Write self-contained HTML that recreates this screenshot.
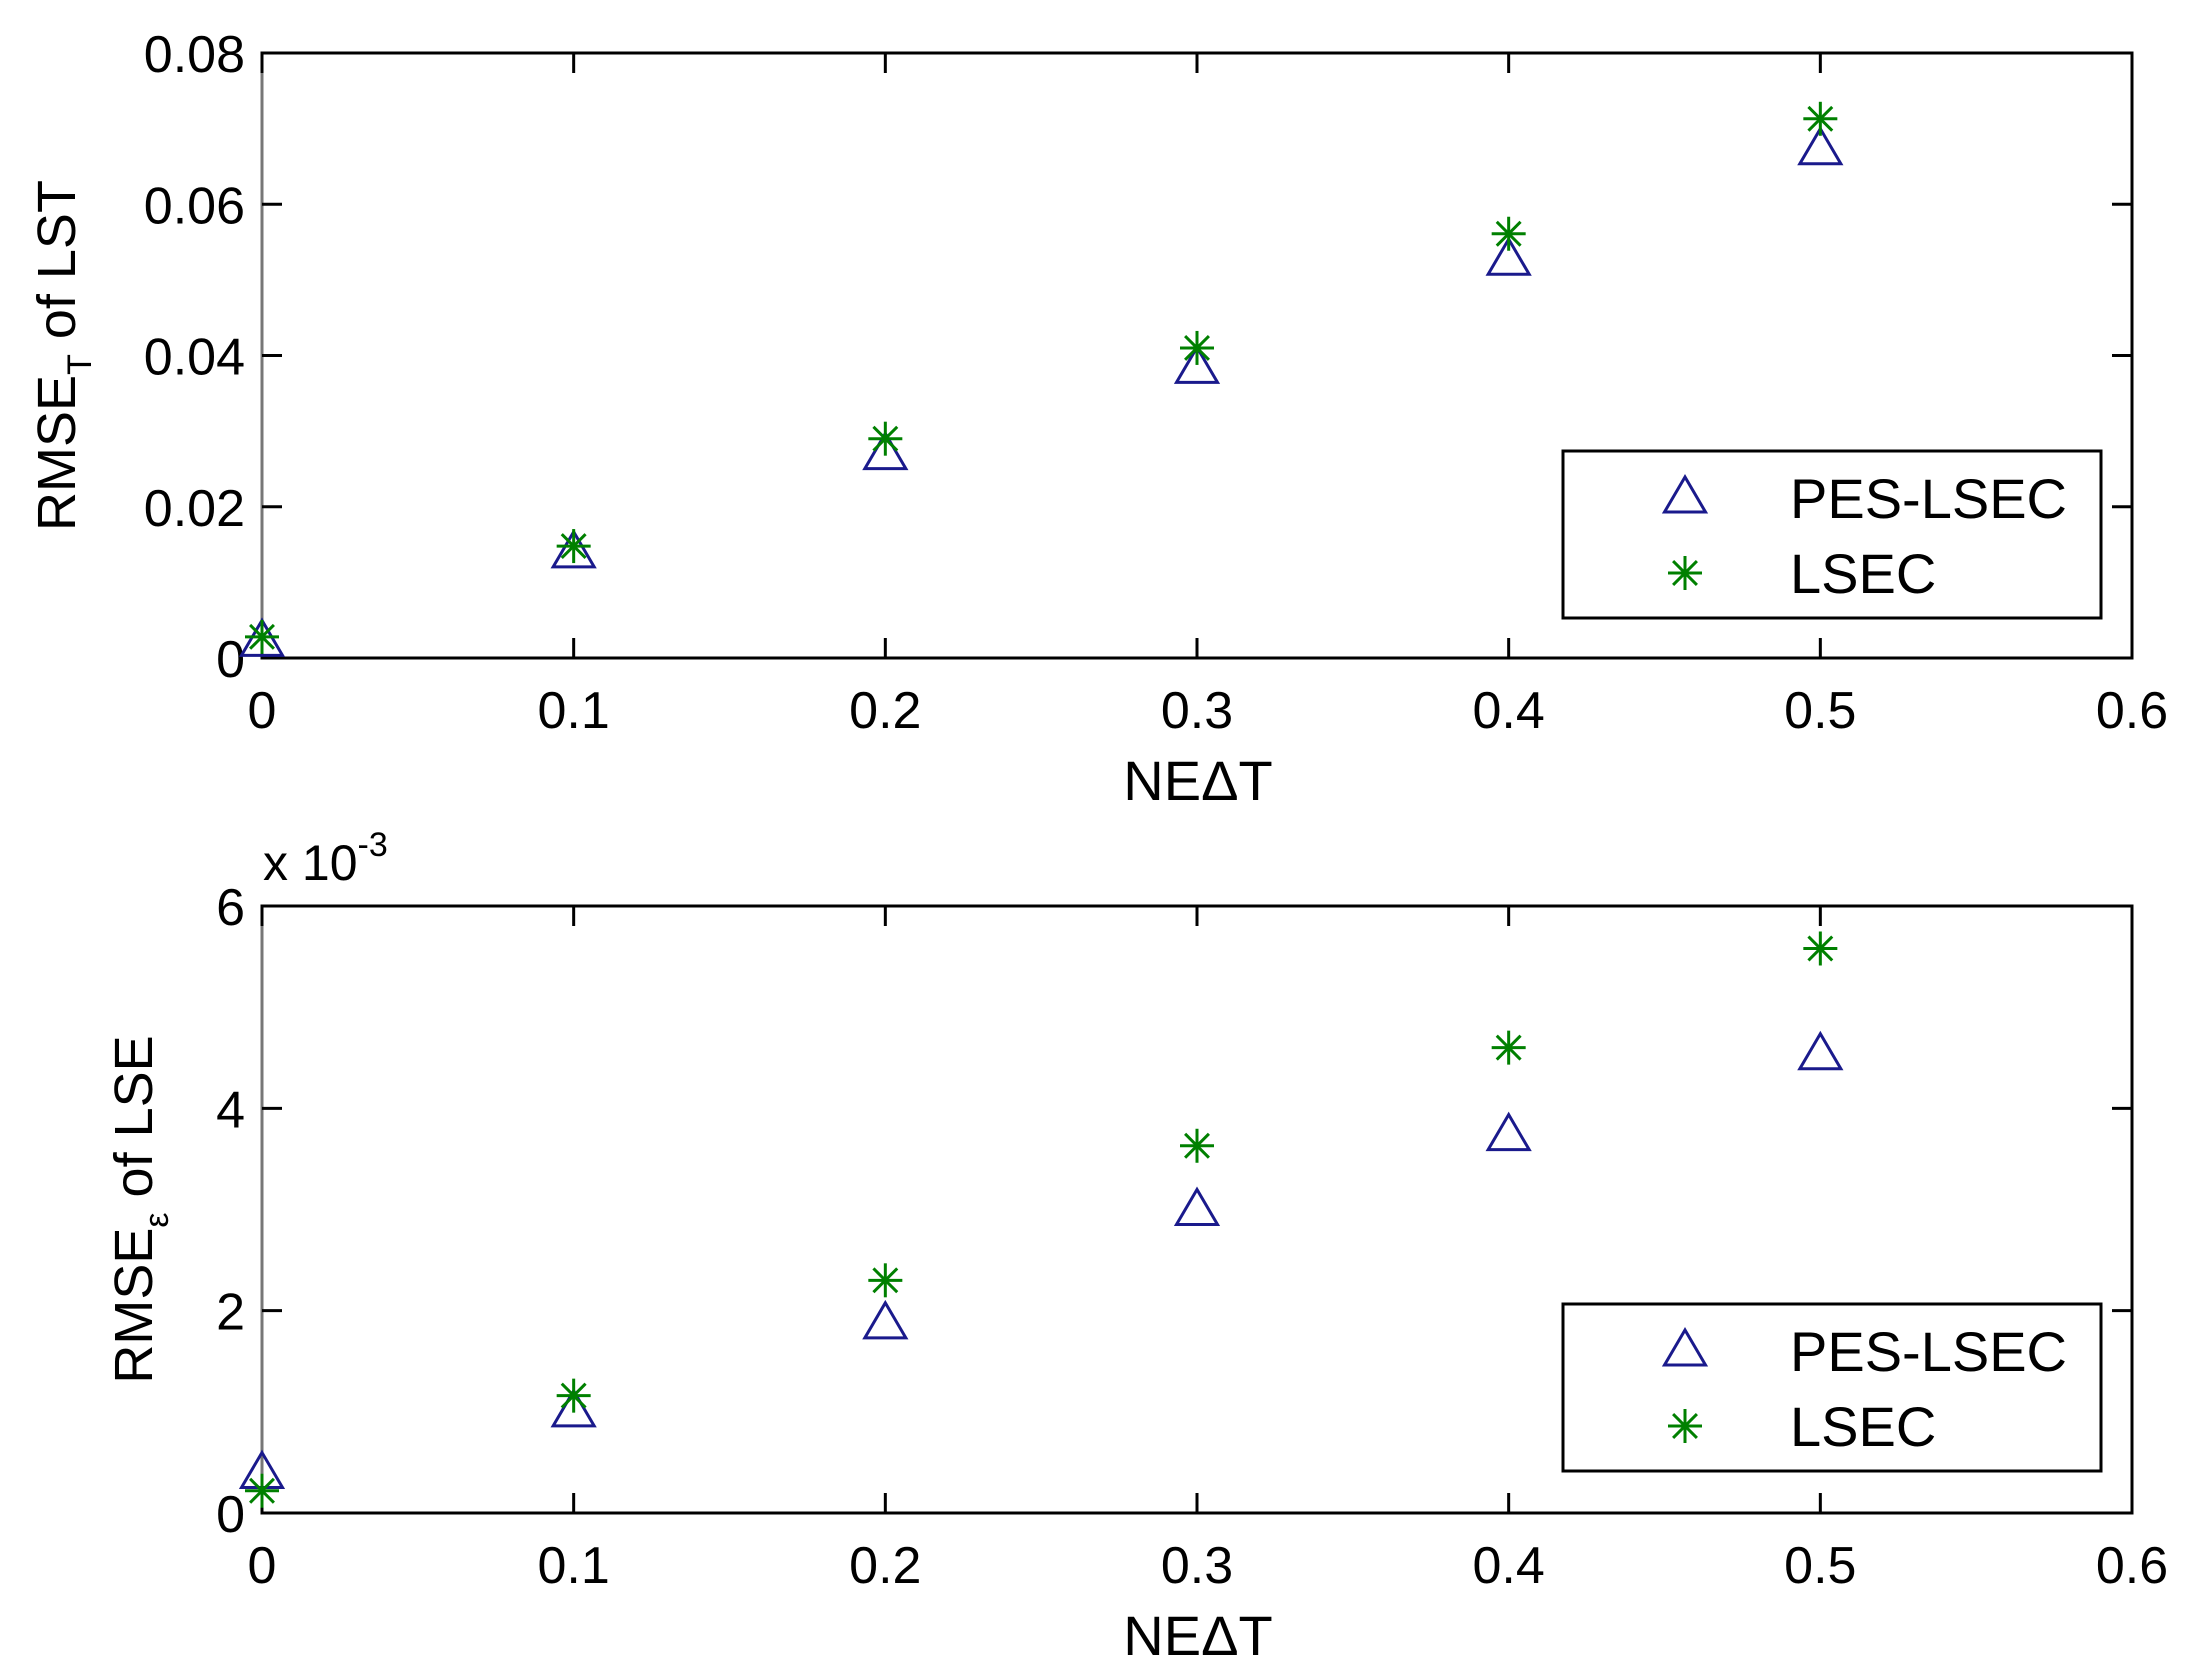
<!DOCTYPE html>
<html><head><meta charset="utf-8"><style>
body{margin:0;background:#fff}
svg{display:block;font-family:"Liberation Sans",Arial,sans-serif}
</style></head><body>
<svg id="chart" width="2197" height="1680" viewBox="0 0 2197 1680"></svg>
<script>
const xTicks=[0,0.1,0.2,0.3,0.4,0.5,0.6];
const xTickLabels=["0","0.1","0.2","0.3","0.4","0.5","0.6"];
const neDT=[0,0.1,0.2,0.3,0.4,0.5];
const topPES=[0.0022,0.0139,0.0269,0.0383,0.0526,0.0672];
const topLSEC=[0.0028,0.0148,0.029,0.041,0.0561,0.0713];
const topYTicks=[0,0.02,0.04,0.06,0.08];
const topYTickLabels=["0","0.02","0.04","0.06","0.08"];
const botPES=[0.39,1.0,1.87,2.99,3.73,4.53];
const botLSEC=[0.22,1.16,2.3,3.63,4.6,5.58];
const botYTicks=[0,2,4,6];
const botYTickLabels=["0","2","4","6"];

const NS="http://www.w3.org/2000/svg";
const svg=document.getElementById('chart');
function mk(tag,attrs,parent){const e=document.createElementNS(NS,tag);for(const k in attrs)e.setAttribute(k,attrs[k]);(parent||svg).appendChild(e);return e;}
const L=262,R=2132;
function xs(v){return L+(v-0)/(0.6)*(R-L);}
function tri(g,cx,cy){const w=41,h=35;const p=mk('polygon',{points:`${cx},${cy-h*0.6} ${cx-w/2},${cy+h*0.4} ${cx+w/2},${cy+h*0.4}`,fill:'none',stroke:'#1a1a8c','stroke-width':3},g);return p;}
function star(g,cx,cy){const s=mk('g',{stroke:'#008000','stroke-width':3},g);const r=17;
 mk('line',{x1:cx-r,y1:cy,x2:cx+r,y2:cy},s);mk('line',{x1:cx,y1:cy-r,x2:cx,y2:cy+r},s);
 mk('line',{x1:cx-r*0.7,y1:cy-r*0.7,x2:cx+r*0.7,y2:cy+r*0.7},s);mk('line',{x1:cx-r*0.7,y1:cy+r*0.7,x2:cx+r*0.7,y2:cy-r*0.7},s);return s;}
function panel(name,T,B,yMax,yT,yTL,pes,lsec,ylabel,sub,ylabX,legTop){
 const g=mk('g',{});
 
 const ys=v=>B-(v/yMax)*(B-T);
 const box=mk('rect',{x:L,y:T,width:R-L,height:B-T,fill:'#fff',stroke:'#000','stroke-width':3},g);
 
 mk('line',{x1:L,y1:T,x2:L,y2:B,stroke:'#777','stroke-width':3},g);
 xTicks.forEach((t,i)=>{const x=xs(t);
  mk('line',{x1:x,y1:B,x2:x,y2:B-20,stroke:'#000','stroke-width':3},g);
  mk('line',{x1:x,y1:T,x2:x,y2:T+20,stroke:'#000','stroke-width':3},g);
  const tx=mk('text',{x:x,y:B+70,'font-size':52,'text-anchor':'middle',fill:'#000'},g);tx.textContent=xTickLabels[i];
  });
 yT.forEach((t,i)=>{const y=ys(t);
  mk('line',{x1:L,y1:y,x2:L+20,y2:y,stroke:'#000','stroke-width':3},g);
  mk('line',{x1:R,y1:y,x2:R-20,y2:y,stroke:'#000','stroke-width':3},g);
  const tx=mk('text',{x:L-17,y:y+19,'font-size':52,'text-anchor':'end',fill:'#000'},g);tx.textContent=yTL[i];
  });
 const xl=mk('text',{x:1198,y:B+142,'font-size':56,'text-anchor':'middle'},g);xl.textContent='NEΔT';
 
 const cy=(T+B)/2;
 const yl=mk('text',{x:0,y:0,'font-size':54,'text-anchor':'middle',transform:`translate(${ylabX},${cy}) rotate(-90)`},g);
 yl.innerHTML=`RMSE<tspan font-size="34" dy="16">${sub}</tspan><tspan dy="-16"> of ${ylabel}</tspan>`;
 
 neDT.forEach((v,i)=>{const t=tri(g,xs(v),ys(pes[i]));
  const s=star(g,xs(v),ys(lsec[i]));});
 const lg=mk('g',{},g);
 mk('rect',{x:1563,y:legTop,width:538,height:167,fill:'#fff',stroke:'#000','stroke-width':3},lg);
 const t1=tri(lg,1685,legTop+47);
 const s1=star(lg,1685,legTop+122);
 const a=mk('text',{x:1790,y:legTop+67,'font-size':56},lg);a.textContent='PES-LSEC';
 const b=mk('text',{x:1790,y:legTop+142,'font-size':56},lg);b.textContent='LSEC';
 return g;
}
panel('top-panel',53,658,0.08,topYTicks,topYTickLabels,topPES,topLSEC,'LST','T',75,451);
panel('bottom-panel',906,1513,6,botYTicks,botYTickLabels,botPES,botLSEC,'LSE','ε',152,1304);
const ex=mk('text',{x:263,y:880,'font-size':50});
ex.innerHTML='x 10<tspan font-size="34" dy="-24">-3</tspan>';


</script>
</body></html>
